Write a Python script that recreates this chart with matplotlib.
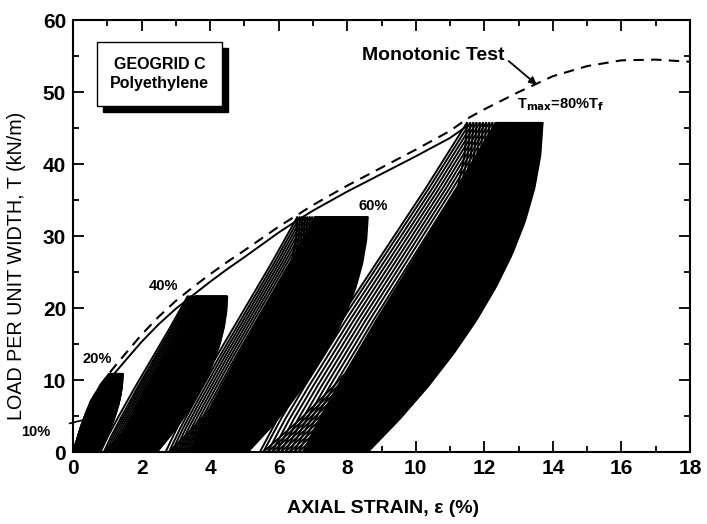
import numpy as np
import matplotlib
matplotlib.use('Agg')
import matplotlib.pyplot as plt
from matplotlib.collections import LineCollection
from matplotlib.patches import Rectangle, Polygon

plt.rcParams['font.family'] = ['Liberation Sans', 'DejaVu Sans']

# ---- monotonic test curve ----
mono_strain = [0, 0.25, 0.5, 0.8, 1.15, 1.5, 2.0, 2.5, 3.0, 3.5, 4.0, 4.5, 5.0, 6.0,
               7.0, 8.0, 9.0, 10.0, 11.0, 11.5, 12.0, 13.0, 14.0, 15.0, 16.0, 17.0, 18.0]
mono_load = [0, 3.8, 6.9, 9.3, 11.5, 13.5, 16.3, 18.8, 21.0, 22.9, 24.7, 26.4, 28.0, 31.3,
             34.3, 37.0, 39.5, 42.0, 44.6, 46.3, 47.6, 50.0, 52.2, 53.6, 54.4, 54.5, 54.2]

# ---- cyclic load stages ----
stage_labels = ['10%', '20%', '40%', '60%', '80%']
stage_tmax = [5.4, 10.9, 21.7, 32.7, 45.8]
first_load_start = [0.0, 0.0, 0.80, 2.70, 5.45]
peak_first = [0.40, 1.12, 3.35, 6.55, 11.5]
peak_last = [0.50, 1.45, 4.50, 8.60, 13.7]
resid_first = [0.05, 0.25, 0.90, 2.80, 5.55]
resid_last = [0.20, 0.73, 2.45, 5.10, 8.60]
n_bundle = [0, 0, 5, 7, 9]            # early, widely spaced cycles
bundle_frac = [0.0, 0.0, 0.2, 0.25, 0.38]
n_dense = [20, 60, 70, 80, 90]        # later, tightly packed cycles

# shape of unloading / reloading branches (load fraction -> strain fraction)
shape_r = [0, 0.1, 0.2, 0.3, 0.4, 0.5, 0.6, 0.7, 0.8, 0.9, 1.0]
unload_h = [0, 0.182, 0.346, 0.492, 0.621, 0.732, 0.825, 0.899, 0.953, 0.987, 1.0]
reload_h = [0, 0.085, 0.18, 0.28, 0.38, 0.485, 0.59, 0.695, 0.80, 0.90, 1.0]

x_ticks = [0, 2, 4, 6, 8, 10, 12, 14, 16, 18]
y_ticks = [0, 10, 20, 30, 40, 50, 60]

fig = plt.figure(figsize=(7.07, 5.24), dpi=100)
ax = fig.add_axes([0.1033, 0.1374, 0.8727, 0.8244])

r = np.linspace(0, 1, 80)
hu = np.interp(r, shape_r, unload_h)
hl = np.interp(r, shape_r, reload_h)

ms = np.array(mono_strain)
ml = np.array(mono_load)

segs = []
for s in range(len(stage_tmax)):
    T = stage_tmax[s]
    prog = np.concatenate([np.linspace(0, bundle_frac[s], n_bundle[s], endpoint=False),
                           np.linspace(bundle_frac[s], 1, n_dense[s])])
    ep = peak_first[s] + (peak_last[s] - peak_first[s]) * prog
    er = resid_first[s] + (resid_last[s] - resid_first[s]) * prog
    n = len(prog)
    if s <= 1:
        yy = r * T
        segs.append(np.column_stack([np.interp(yy, ml, ms), yy]))
    else:
        x0 = first_load_start[s]
        segs.append(np.column_stack([x0 + (ep[0] - x0) * hl, r * T]))
    for i in range(n):
        segs.append(np.column_stack([er[i] + (ep[i] - er[i]) * hu, r * T]))
        if i < n - 1:
            segs.append(np.column_stack([er[i] + (ep[i + 1] - er[i]) * hl, r * T]))

# solid low-load band (20 % stage) bounded by the envelope and its last unloading
T1 = stage_tmax[1]
yy = r * T1
left = np.column_stack([np.interp(yy, ml, ms), yy])
right = np.column_stack([resid_last[1] + (peak_last[1] - resid_last[1]) * hu, yy])[::-1]
ax.add_patch(Polygon(np.vstack([left, right]), closed=True, facecolor='black',
                     edgecolor='black', lw=1.0))

# loading lines along the envelope between stages
for s in range(1, len(stage_tmax) - 1):
    x0, x1 = peak_first[s], peak_first[s + 1]
    xx = np.linspace(x0, x1, 40)
    base = np.interp(xx, ms, ml)
    off0 = np.interp(x0, ms, ml) - stage_tmax[s]
    off1 = np.interp(x1, ms, ml) - stage_tmax[s + 1]
    off = off0 + (off1 - off0) * (xx - x0) / (x1 - x0)
    segs.append(np.column_stack([xx, base - off - 0.5]))

ax.add_collection(LineCollection(segs, colors='black', linewidths=1.4))

# monotonic test
ax.plot(ms, ml, color='black', lw=1.5, ls=(0, (5, 3.5)))

ax.set_xlim(0, 18)
ax.set_ylim(0, 60)
ax.set_xticks(x_ticks)
ax.set_yticks(y_ticks)
ax.set_xticks(np.arange(0, 19, 1), minor=True)
ax.set_yticks(np.arange(0, 61, 5), minor=True)
ax.tick_params(which='both', direction='in', top=True, right=True, width=1.3)
ax.tick_params(which='major', length=8, labelsize=15, pad=5)
ax.tick_params(which='minor', length=4)
for lab in ax.get_xticklabels() + ax.get_yticklabels():
    lab.set_fontweight('bold')
for sp in ax.spines.values():
    sp.set_linewidth(1.5)

ax.set_xlabel('AXIAL STRAIN, \u03b5 (%)', fontsize=14, fontweight='bold')
ax.set_ylabel('LOAD PER UNIT WIDTH, T (kN/m)', fontsize=14.2)
ax.xaxis.set_label_coords(0.503, -0.110)
ax.yaxis.set_label_coords(-0.076, 0.432)

# labels
ax.text(0.70, 12.9, '20%', fontsize=10.5, fontweight='bold', ha='center', va='center')
ax.text(2.63, 23.1, '40%', fontsize=10.5, fontweight='bold', ha='center', va='center')
ax.text(8.75, 34.2, '60%', fontsize=10.5, fontweight='bold', ha='center', va='center')
ax.annotate('10%', xy=(0.26, 4.4), xytext=(-1.08, 2.8), fontsize=10.5, fontweight='bold',
            ha='center', va='center', annotation_clip=False,
            arrowprops=dict(arrowstyle='-', color='black', lw=1.2, shrinkA=12, shrinkB=0))
ax.annotate('Monotonic Test', xy=(13.53, 51.0), xytext=(10.52, 55.1), fontsize=14,
            fontweight='bold', ha='center', va='center',
            arrowprops=dict(arrowstyle='-|>', color='black', lw=1.3, shrinkA=1, shrinkB=0,
                            mutation_scale=11, relpos=(1.0, 0.35)))
ax.text(12.95, 48.3, 'T$_{\\mathbf{max}}$=80%T$_{\\mathbf{f}}$', fontsize=10.5,
        fontweight='bold', ha='left', va='center')

# material box with shadow
ax.add_patch(Rectangle((0.88, 47.25), 3.65, 8.8, facecolor='black', edgecolor='black', zorder=4))
ax.add_patch(Rectangle((0.70, 48.1), 3.65, 8.8, facecolor='white', edgecolor='black', lw=1.0, zorder=5))
ax.text(2.52, 52.5, 'GEOGRID C\nPolyethylene', fontsize=11.5, fontweight='bold',
        ha='center', va='center', linespacing=1.4, zorder=6)

fig.savefig('out.png', dpi=100)
